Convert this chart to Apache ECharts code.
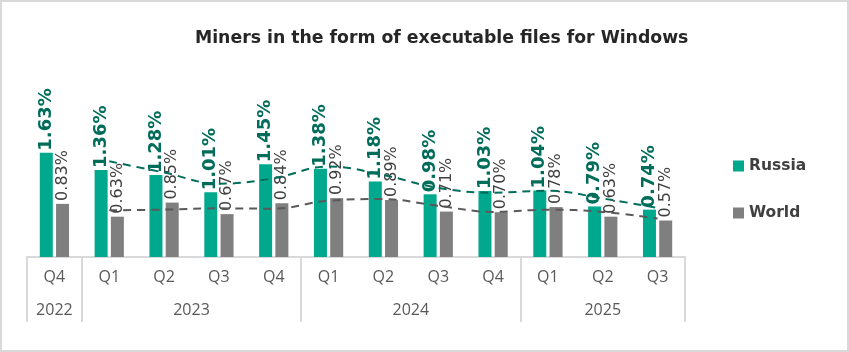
<!DOCTYPE html>
<html><head><meta charset="utf-8">
<script src="https://cdn.jsdelivr.net/npm/echarts@6/dist/echarts.min.js"></script>
<style>
html,body{margin:0;padding:0;background:#fff;}
#c{width:849px;height:352px;box-sizing:border-box;border:2px solid #d9d9d9;}
</style></head><body>
<div id="c"></div>
<script>
const quarters = ['Q4','Q1','Q2','Q3','Q4','Q1','Q2','Q3','Q4','Q1','Q2','Q3'];
const years = ['2022','2023','2024','2025'];
const quartersPerYear = [1,4,4,3];
const russia = [1.63,1.36,1.28,1.01,1.45,1.38,1.18,0.98,1.03,1.04,0.79,0.74];
const world  = [0.83,0.63,0.85,0.67,0.84,0.92,0.89,0.71,0.70,0.78,0.63,0.57];
const russiaTrend = [null,1.495,1.32,1.145,1.23,1.415,1.28,1.08,1.005,1.035,0.915,0.765];
const worldTrend  = [null,0.73,0.74,0.76,0.755,0.88,0.905,0.80,0.705,0.74,0.705,0.60];

const groupStarts = [];
const yearPos = {};
let acc = 0;
quartersPerYear.forEach((n,i)=>{ groupStarts.push(acc); yearPos[(acc + n/2).toFixed(1)] = years[i]; acc += n; });

const chart = echarts.init(document.getElementById('c'));
const boldFam = '"DejaVu Sans", sans-serif';
const lightFam = '"Open Sans", sans-serif';
chart.setOption({
  animation:false,
  title:{text:'Miners in the form of executable files for Windows',left:188,top:23,
    textStyle:{fontFamily:boldFam,fontWeight:'bold',fontSize:17.3,color:'#262626'}},
  legend:{orient:'vertical',left:726,top:151,itemGap:31,itemWidth:11,itemHeight:11,icon:'rect',
    textStyle:{fontFamily:boldFam,fontWeight:'bold',fontSize:15.5,color:'#404040'},
    data:['Russia','World']},
  grid:{left:25,right:162,top:127,bottom:93,containLabel:false},
  xAxis:[{type:'category',data:quarters,position:'bottom',
      axisLine:{lineStyle:{color:'#d9d9d9',width:2}},
      axisTick:{show:true,length:65,lineStyle:{color:'#d9d9d9',width:2},
        interval:(i)=>groupStarts.indexOf(i)>=0},
      axisLabel:{fontFamily:lightFam,fontSize:16,color:'#595959',margin:12}},
    {type:'value',position:'bottom',min:0,max:acc,interval:0.5,offset:0,
      axisLine:{show:false},axisTick:{show:false},splitLine:{show:false},
      axisLabel:{fontFamily:lightFam,fontSize:16,color:'#595959',margin:45,
        formatter:(v)=>yearPos[v.toFixed(1)]||'',showMinLabel:true,showMaxLabel:true,hideOverlap:false}}],
  yAxis:{type:'value',min:0,max:2,show:false,splitLine:{show:false}},
  series:[
    {name:'Russia',type:'bar',data:russia,barWidth:13,barGap:'25%',
      itemStyle:{color:'#00A88E'},
      label:{show:true,position:'top',rotate:90,align:'left',verticalAlign:'middle',distance:2,
        formatter:(p)=>p.value.toFixed(2)+'%',
        fontFamily:boldFam,fontWeight:'bold',fontSize:18,color:'#006D5B'}},
    {name:'World',type:'bar',data:world,barWidth:13,
      itemStyle:{color:'#7F7F7F'},
      label:{show:true,position:'top',rotate:90,align:'left',verticalAlign:'middle',distance:3,
        formatter:(p)=>p.value.toFixed(2)+'%',
        fontFamily:boldFam,fontSize:16,color:'#404040'}},
    {name:'RussiaTrend',type:'line',data:russiaTrend,smooth:0.4,symbol:'none',silent:true,
      lineStyle:{color:'#006D5B',width:2,type:[8,6]},z:5},
    {name:'WorldTrend',type:'line',data:worldTrend,smooth:0.4,symbol:'none',silent:true,
      lineStyle:{color:'#595959',width:2,type:[8,6]},z:5}
  ]
});
</script></body></html>
